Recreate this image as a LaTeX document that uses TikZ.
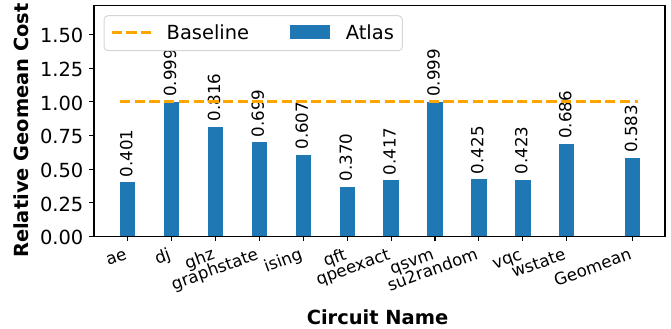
\documentclass[tikz,border=0pt]{standalone}
\usepackage{fontspec}
\setmainfont{DejaVu Sans}
\definecolor{barblue}{HTML}{1F77B4}
\definecolor{baseorange}{HTML}{FFA500}
\definecolor{legendgray}{HTML}{D6D6D6}
\begin{document}
\begin{tikzpicture}[x=1bp,y=-1bp,
  fourteen/.style={font=\fontsize{19.44bp}{23bp}\selectfont},
  twelve/.style={font=\fontsize{16.67bp}{20bp}\selectfont},
  xtickfont/.style={font=\fontsize{16.67bp}{20bp}\selectfont},
  ylab/.style={fourteen, anchor=east, inner sep=0pt},
  xlab/.style={xtickfont, rotate=20, anchor=north east, inner sep=0pt, text height=0.76em, text depth=0.24em},
  vallab/.style={twelve, rotate=90, anchor=west, inner sep=0pt},
  barfill/.style={fill=barblue},
  axisline/.style={draw=black, line width=1.1bp},
  baseln/.style={draw=baseorange, line width=2.8bp, dash pattern=on 10.3bp off 4.4bp},
  legtext/.style={fourteen, anchor=base west, inner sep=0pt}
]
\useasboundingbox (0,0) rectangle (671,328);

% bars, ticks, labels
\foreach \i/\v/\lab in {0/0.401/ae, 1/0.999/dj, 2/0.816/ghz, 3/0.699/graphstate, 4/0.607/ising, 5/0.370/qft, 6/0.417/qpeexact, 7/0.999/qsvm, 8/0.425/su2random, 9/0.423/vqc, 10/0.686/wstate, 11.5/0.583/Geomean}{
  \pgfmathsetmacro\cx{127.7+43.9*\i}
  \pgfmathsetmacro\barTop{236.5-134.7*\v}
  \fill[barfill] (\cx-7.7,236.5) rectangle (\cx+7.7,\barTop);
  \draw[axisline] (\cx,236.5) -- (\cx,241.4);
  \node[xlab] (t\i) at (\cx-2.5,251.5) {\lab};
  \node[vallab] (v\i) at (\cx-1.5,\barTop-5) {\v};
}

% baseline
\coordinate (bl0) at (120,101.8);
\coordinate (bl1) at (638,101.8);
\draw[baseln] (bl0) -- (bl1);

% y ticks
\foreach \v in {0.00,0.25,0.50,0.75,1.00,1.25,1.50}{
  \pgfmathsetmacro\yy{236.5-134.7*\v}
  \draw[axisline] (94,\yy) -- (89.1,\yy);
  \node[ylab] (y\v) at (83.5,\yy+1.2) {\v};
}

% frame
\draw[axisline] (94,5.7) rectangle (665,236.5);

% legend
\draw[draw=legendgray, fill=white, rounded corners=4bp, line width=1bp] (104,15.7) rectangle (402.3,50.7);
\coordinate (ld0) at (111.7,32.3);
\coordinate (ld1) at (151.7,32.3);
\draw[baseln] (ld0) -- (ld1);
\node[legtext] (lb) at (166.5,39.1) {Baseline};
\fill[barfill] (290,25) rectangle (330,39);
\node[legtext] (la) at (345.7,39.1) {Atlas};

% axis labels
\node[fourteen, rotate=90, inner sep=0pt] (ylabel) at (20.8,130.5) {\textbf{Relative Geomean Cost}};
\node[fourteen, inner sep=0pt] (xlabel) at (377.5,317.5) {\textbf{Circuit Name}};
\end{tikzpicture}
\end{document}
